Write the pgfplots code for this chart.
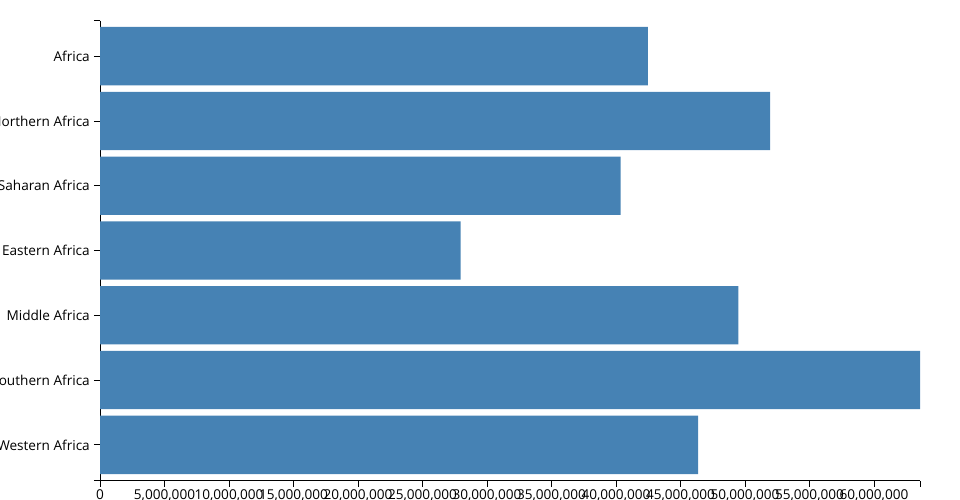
\documentclass[border=0pt]{standalone}
\usepackage{pgfplots}
\pgfplotsset{compat=1.18}
\usepackage{fontspec}
\setmainfont{Open Sans}
\definecolor{steelblue}{RGB}{70,130,180}
\begin{document}
\begin{tikzpicture}
\useasboundingbox (0,0) rectangle (960bp,500bp);
\clip (0,0) rectangle (960bp,500bp);
\begin{axis}[
  at={(100bp,19.5bp)}, anchor=south west,
  width=820bp, height=460bp, scale only axis,
  xbar, bar width=0.9,
  xmin=0, xmax=63570000,
  ymin=-0.55, ymax=6.55, y dir=reverse,
  axis x line*=bottom, axis y line*=left,
  axis line style={-, black, line width=0.8bp},
  tick style={black, line width=0.8bp},
  tick align=outside, major tick length=6bp,
  xtick={0,5000000,10000000,15000000,20000000,25000000,30000000,35000000,40000000,45000000,50000000,55000000,60000000},
  xticklabels={0,{5,000,000},{10,000,000},{15,000,000},{20,000,000},{25,000,000},{30,000,000},{35,000,000},{40,000,000},{45,000,000},{50,000,000},{55,000,000},{60,000,000}},
  ytick={0,1,2,3,4,5,6},
  yticklabels={Africa,Northern Africa,Sub-Saharan Africa,Eastern Africa,Middle Africa,Southern Africa,Western Africa},
  extra x ticks={63570000}, extra x tick labels={},
  extra y ticks={-0.55,6.55}, extra y tick labels={},
  extra tick style={tick align=outside, major tick length=6bp},
  ticklabel style={font=\fontsize{13.6bp}{16bp}\selectfont, inner sep=0pt},
  xticklabel style={yshift=-3bp},
  yticklabel style={xshift=-4bp},
  clip=false,
]
\addplot[fill=steelblue, draw=none] coordinates {
  (42480000,0)
  (51960000,1)
  (40360000,2)
  (27960000,3)
  (49480000,4)
  (63570000,5)
  (46360000,6)
};
\end{axis}
\end{tikzpicture}
\end{document}
